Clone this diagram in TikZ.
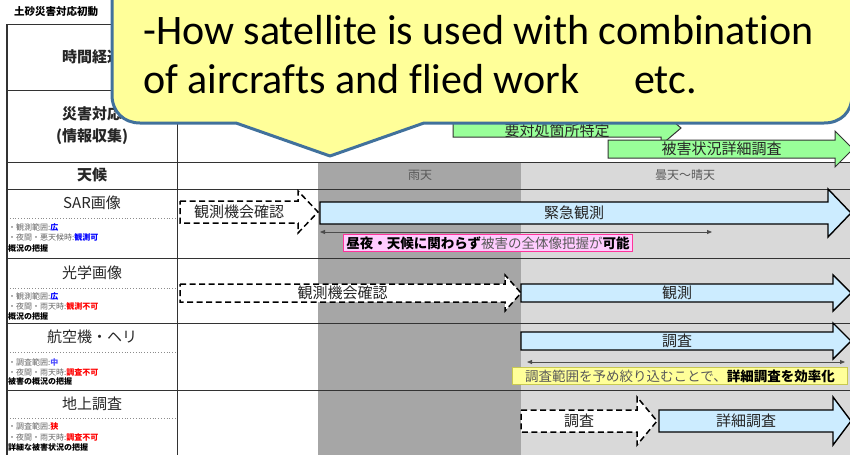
\documentclass[tikz,border=0pt]{standalone}
\usepackage{fontspec}
\setmainfont{Noto Sans CJK JP}
\newfontfamily\calloutfont[Ligatures=NoCommon]{Carlito}
\usetikzlibrary{arrows.meta}

\definecolor{rainbg}{HTML}{A6A6A6}
\definecolor{cloudbg}{HTML}{D9D9D9}
\definecolor{arrowblue}{HTML}{CCECFF}
\definecolor{greenfill}{HTML}{99FF99}
\definecolor{pinkfill}{HTML}{FFCCFF}
\definecolor{pinkline}{HTML}{FF3399}
\definecolor{calloutfill}{HTML}{FFFF99}
\definecolor{calloutline}{HTML}{41719C}
\definecolor{yellowline}{HTML}{C8C850}
\definecolor{notegray}{HTML}{595959}

% style, x start, x head, x tip, y, half body, half head, name, text
\newcommand{\drawblockarrow}[9]{
	\filldraw[#1] (#2, {#5-#6}) -- (#3, {#5-#6}) -- (#3, {#5-#7}) -- (#4, #5)
		-- (#3, {#5+#7}) -- (#3, {#5+#6}) -- (#2, {#5+#6}) -- cycle;
	\node[arrowtext] (#8) at ({(#2+#3)/2}, #5) {#9};
}

\tikzset{
	gridline/.style={draw=black!80, line width=1pt},
	notesep/.style={draw=black!45, line width=0.8pt, dotted},
	rowtitle/.style={font=\fontsize{15}{22}\selectfont, text=black!85, align=center},
	notetext/.style={font=\fontsize{8}{9}\selectfont, anchor=west, inner sep=0pt, text=black!60},
	weathertext/.style={font=\fontsize{12}{14}\selectfont, text=notegray},
	arrowtext/.style={font=\fontsize{15}{18}\selectfont, text=black!85, inner sep=0pt},
	bluearrow/.style={fill=arrowblue, draw=black, line width=1.4pt, line join=miter},
	dasharrow/.style={fill=white, draw=black, line width=1.5pt, dash pattern=on 6pt off 3.5pt},
	greenarrow/.style={fill=greenfill, draw=black!80, line width=1pt},
	spanarrow/.style={draw=black!70, line width=0.8pt, <->, >={Triangle[length=5pt,width=4pt]}},
	notebox/.style={font=\fontsize{13.5}{15}\selectfont, inner xsep=3pt, inner ysep=2pt, line width=0.8pt},
	callout/.style={fill=calloutfill, draw=calloutline, line width=3pt, line join=round},
	callouttext/.style={font=\calloutfont\fontsize{42}{50}\selectfont, anchor=base west, inner sep=0pt},
}

\begin{document}
\begin{tikzpicture}[x=1pt, y=-1pt]
\useasboundingbox (0,0) rectangle (850,455);

% weather bands
\fill[rainbg] (318,162) rectangle (521,455);
\fill[cloudbg] (521,162) rectangle (850,455);

% table rules
\foreach \y in {24,90,162,189,258,323,390}
	\draw[gridline] (7,\y) -- (850,\y);
\foreach \y in {218,288,352,418}
	\draw[notesep] (7,\y) -- (177,\y);
\draw[gridline] (177,24) -- (177,455);
\draw[gridline, line width=1.6pt] (7,24) -- (7,455);

% left column
\node[font=\fontsize{10.5}{13}\selectfont\bfseries, anchor=west, inner sep=0pt] (heading) at (14,12) {土砂災害対応初動};
\node[rowtitle, font=\fontsize{15}{22}\selectfont\bfseries] (timehead) at (92,57) {時間経過};
\node[rowtitle, font=\fontsize{15}{22}\selectfont\bfseries] (resphead) at (92,126) {災害対応\\(情報収集)};
\node[rowtitle, font=\fontsize{15}{22}\selectfont\bfseries] (weatherhead) at (92,175) {天候};
\node[rowtitle] (sarhead) at (92,203) {SAR画像};
\node[rowtitle] (opthead) at (92,273) {光学画像};
\node[rowtitle] (airhead) at (92,337) {航空機・ヘリ};
\node[rowtitle] (groundhead) at (92,404) {地上調査};

\node[notetext] (sarA) at (8,227) {・観測範囲:\textcolor{blue}{\bfseries 広}};
\node[notetext] (sarB) at (8,237) {・夜間・悪天候時:\textcolor{blue}{\bfseries 観測可}};
\node[notetext, text=black] (sarC) at (8,248) {\bfseries 概況の把握};
\node[notetext] (optA) at (8,296) {・観測範囲:\textcolor{blue}{\bfseries 広}};
\node[notetext] (optB) at (8,306) {・夜間・雨天時:\textcolor{red}{\bfseries 観測不可}};
\node[notetext, text=black] (optC) at (8,316) {\bfseries 概況の把握};
\node[notetext] (airA) at (8,362) {・調査範囲:\textcolor{blue!70!white}{\bfseries 中}};
\node[notetext] (airB) at (8,372) {・夜間・雨天時:\textcolor{red}{\bfseries 調査不可}};
\node[notetext, text=black] (airC) at (8,381) {\bfseries 被害の概況の把握};
\node[notetext] (groundA) at (8,426) {・調査範囲:\textcolor{red}{\bfseries 狭}};
\node[notetext] (groundB) at (8,437) {・夜間・雨天時:\textcolor{red}{\bfseries 調査不可}};
\node[notetext, text=black] (groundC) at (8,447) {\bfseries 詳細な被害状況の把握};

% weather
\node[weathertext] (rain) at (420,175) {雨天};
\node[weathertext] (cloudy) at (685,175) {曇天～晴天};

% response steps
\drawblockarrow{greenarrow}{453}{661}{681}{128}{9}{17}{locate}{}
\node[arrowtext] (locatetext) at (557,131) {要対処箇所特定};
\drawblockarrow{greenarrow}{608}{835}{853}{149}{9}{18}{detailgreen}{被害状況詳細調査}

% SAR
\drawblockarrow{dasharrow}{180}{298}{318}{212}{11}{21}{sarcheck}{観測機会確認}
\drawblockarrow{bluearrow}{320}{828}{851}{213}{11}{24}{sarurgent}{緊急観測}
\coordinate (sarspanL) at (320,232);
\coordinate (sarspanR) at (712,232);
\draw[spanarrow] (sarspanL) -- (sarspanR);
\node[notebox, fill=pinkfill, draw=pinkline] (sarmerit) at (488,243)
	{\bfseries 昼夜・天候に関わらず\mdseries\textcolor{notegray}{被害の全体像把握が}\bfseries 可能};

% optical
\drawblockarrow{dasharrow}{180}{505}{521}{293}{9}{18}{optcheck}{観測機会確認}
\drawblockarrow{bluearrow}{521}{833}{851}{293}{9}{18}{optobs}{観測}

% aircraft
\drawblockarrow{bluearrow}{521}{833}{851}{341}{9}{18}{airsurvey}{調査}
\coordinate (airspanL) at (527,362);
\coordinate (airspanR) at (845,362);
\draw[spanarrow] (airspanL) -- (airspanR);
\node[notebox, fill=calloutfill, draw=yellowline, minimum width=335pt, minimum height=17pt] (airmerit) at (680,376)
	{\textcolor{notegray}{調査範囲を予め絞り込むことで、}\bfseries 詳細調査を効率化};

% ground
\drawblockarrow{dasharrow}{521}{637}{657}{421}{11}{24}{groundcheck}{調査}
\drawblockarrow{bluearrow}{659}{833}{851}{421}{11}{24}{grounddetail}{詳細調査}

% callout
\filldraw[callout] (112,-40) -- (112,95) .. controls (112,112) and (124,123) .. (140,123)
	-- (236,123) -- (330,156) -- (424,123) -- (824,123)
	.. controls (841,123) and (852,112) .. (852,95) -- (852,-40) -- cycle;
\node[callouttext] (callA) at (143,44) {-How satellite is used with combination};
\node[callouttext] (callB) at (143,93) {of aircrafts and flied work\hspace{1.3em}etc.};
\end{tikzpicture}
\end{document}
